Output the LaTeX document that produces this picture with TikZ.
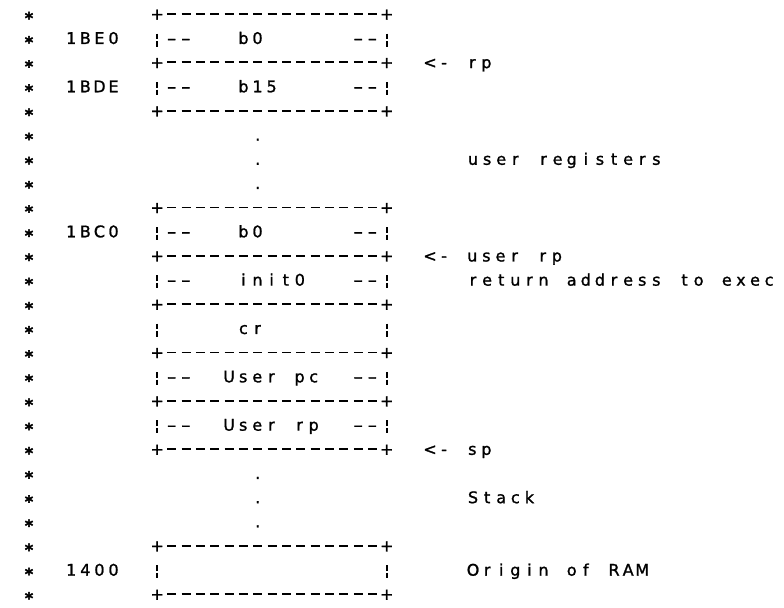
\documentclass[tikz,border=0pt]{standalone}
\usepackage{fontspec}
\usepackage{graphicx}
\newfontfamily\dv[FakeBold=1.3]{DejaVu Sans}
\newfontfamily\dvb[FakeBold=2.5]{DejaVu Sans Bold}
\newlength\cw \setlength\cw{14.1pt}
\makeatletter
\def\cells#1{\cells@loop#1\relax}
\def\cells@loop#1{\ifx\relax#1\else\makebox[\cw][c]{#1}\expandafter\cells@loop\fi}
\makeatother
\newcommand\dd{\makebox[\cw][c]{\scalebox{1.7}[1]{-}}}
\begin{document}
\begin{tikzpicture}[x=14.35pt,y=-24.17pt,
  txt/.style={anchor=west, inner sep=0pt, text height=11.5pt, text depth=0pt, xshift=-7.05pt, font=\dv\fontsize{16}{16}\selectfont},
  plus/.style={anchor=center, inner sep=0pt, minimum width=14.35pt, text height=11.5pt, text depth=0pt, font=\dv\fontsize{16}{16}\selectfont},
  astr/.style={anchor=base, inner sep=0pt, xshift=1pt, yshift=-9.8pt, font=\dvb\fontsize{16}{16}\selectfont},
  hdash/.style={line width=1.7pt, dash pattern=on 9pt off 5.35pt, dash phase=11.675pt},
  vdash/.style={line width=1.7pt, dash pattern=on 0pt off 13.72pt on 5.5pt off 2pt on 5.5pt off 30pt}]
\useasboundingbox (-1.9512,-0.5792) rectangle (52.683,24.535);
% left column of asterisks
\foreach \r in {0,...,24} \node[astr] (s\r) at (0,\r) {*};
% box borders
\foreach \r in {0,2,4,8,10,12,14,16,18,22,24} {
  \node[plus] (pL\r) at (9,\r) {+};
  \node[plus] (pR\r) at (25,\r) {+};
  \draw[hdash] (pL\r.east) -- (pR\r.west);
}
\foreach \a/\b in {0/2,2/4,8/10,10/12,12/14,14/16,16/18,22/24} {
  \draw[vdash] (pL\a.south) -- (pL\b.north);
  \draw[vdash] (pR\a.south) -- (pR\b.north);
}
% inner -- markers
\foreach \r in {1,3,9,11,15,17} {
  \node[txt] (ml\r) at (10,\r) {\dd\dd};
  \node[txt] (mr\r) at (23,\r) {\dd\dd};
}
% addresses
\node[txt] (a1) at (3,1) {\cells{1BE0}};
\node[txt] (a3) at (3,3) {\cells{1BDE}};
\node[txt] (a9) at (3,9) {\cells{1BC0}};
\node[txt] (a23) at (3,23) {\cells{1400}};
% cell contents
\node[txt] (c1) at (15,1) {\cells{b0}};
\node[txt] (c3) at (15,3) {\cells{b15}};
\node[txt] (c9) at (15,9) {\cells{b0}};
\node[txt] (c11) at (15,11) {\cells{init0}};
\node[txt] (c13) at (15,13) {\cells{cr}};
\node[txt] (c15) at (14,15) {\cells{User~pc}};
\node[txt] (c17) at (14,17) {\cells{User~rp}};
% ellipsis dots
\foreach \r in {5,6,7,19,20,21} \node[txt] (d\r) at (16,\r) {\cells{.}};
% right-hand annotations
\node[txt] (n2) at (28,2) {\cells{<-~rp}};
\node[txt] (n6) at (31,6) {\cells{user~registers}};
\node[txt] (n10) at (28,10) {\cells{<-~user~rp}};
\node[txt] (n11) at (31,11) {\cells{return~address~to~exec}};
\node[txt] (n18) at (28,18) {\cells{<-~sp}};
\node[txt] (n20) at (31,20) {\cells{Stack}};
\node[txt] (n23) at (31,23) {\cells{Origin~of~RAM}};
\end{tikzpicture}
\end{document}
